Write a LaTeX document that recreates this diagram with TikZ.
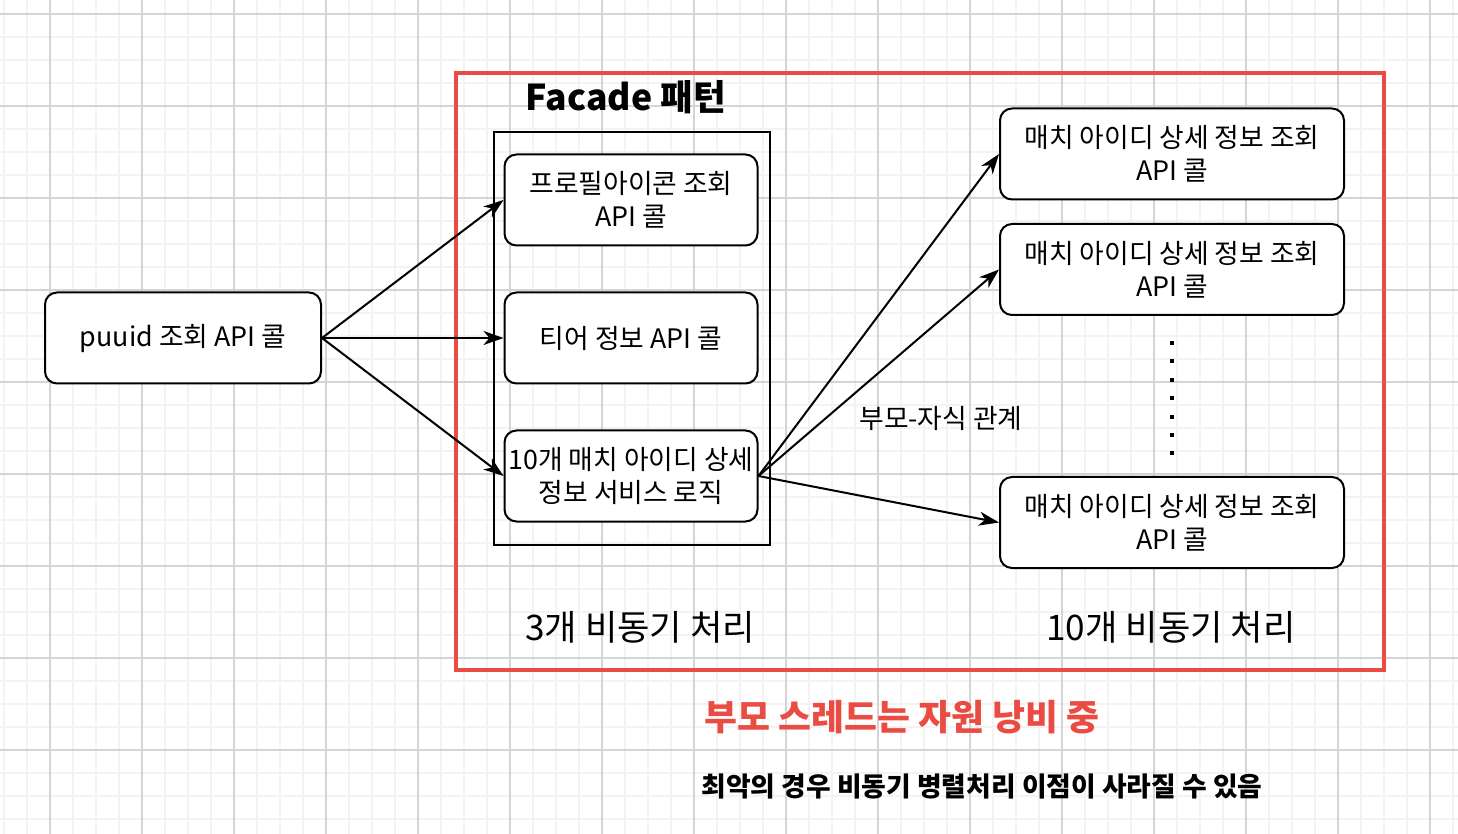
\documentclass[tikz,border=0pt]{standalone}
\usepackage{fontspec}
\setmainfont{Noto Sans CJK KR}
\usetikzlibrary{arrows.meta}
\definecolor{alertred}{RGB}{234,76,67}
\definecolor{gridminor}{RGB}{243,243,243}
\definecolor{gridmajor}{RGB}{212,212,212}

\begin{document}
\begin{tikzpicture}[x=0.5pt,y=-0.5pt,
  callbox/.style={draw, line width=1pt, rounded corners=6pt, fill=white,
    align=center, inner sep=0pt, minimum height=45.5pt,
    font=\fontsize{13.4}{16.5}\selectfont},
  callarrow/.style={-{Stealth[length=10pt,width=7pt,inset=3pt]}, line width=1pt},
  plaintext/.style={inner sep=0pt, font=\fontsize{13.4}{16.5}\selectfont},
  bigtext/.style={inner sep=0pt, font=\fontsize{17.6}{20}\selectfont}]%
  \def\hw{1458}%
  \def\hh{834}%
  \useasboundingbox (0,0) rectangle (\hw,\hh);
  \fill[white] (0,0) rectangle (\hw,\hh);
  % grid of the canvas
  \foreach \gx in {4,27,...,\hw} \draw[gridminor, line width=0.8pt] (\gx,0) -- (\gx,\hh);
  \foreach \gy in {14,37,...,\hh} \draw[gridminor, line width=0.8pt] (0,\gy) -- (\hw,\gy);
  \foreach \gx in {50,142,...,\hw} \draw[gridmajor, line width=0.55pt] (\gx,0) -- (\gx,\hh);
  \foreach \gy in {14,106,...,\hh} \draw[gridmajor, line width=0.55pt] (0,\gy) -- (\hw,\gy);

  % frames
  \draw[alertred, line width=2pt] (456,73) rectangle (1384,670);
  \draw[line width=1pt] (494,132) rectangle (770,545);
  \node[inner sep=0pt, font=\fontsize{17.8}{20}\selectfont\bfseries] (facade) at (626,97) {Facade 패턴};

  \node[callbox, minimum width=138pt] (puuid) at (183,338) {puuid 조회 API 콜};
  \node[callbox, minimum width=126.5pt] (profile) at (631,200) {프로필아이콘 조회\\API 콜};
  \node[callbox, minimum width=126.5pt] (tier) at (631,338) {티어 정보 API 콜};
  \node[callbox, minimum width=126.5pt] (matchsvc) at (631,476) {10개 매치 아이디 상세\\정보 서비스 로직};

  \node[callbox, minimum width=172pt] (detailA) at (1172,154) {매치 아이디 상세 정보 조회\\API 콜};
  \node[callbox, minimum width=172pt] (detailB) at (1172,269.5) {매치 아이디 상세 정보 조회\\API 콜};
  \node[callbox, minimum width=172pt] (detailC) at (1172,522.5) {매치 아이디 상세 정보 조회\\API 콜};

  \draw[callarrow] (puuid.east) -- (profile.west);
  \draw[callarrow] (puuid.east) -- (tier.west);
  \draw[callarrow] (puuid.east) -- (matchsvc.west);
  \draw[callarrow] (matchsvc.east) -- (detailA.west);
  \draw[callarrow] (matchsvc.east) -- (detailB.west);
  \draw[callarrow] (matchsvc.east) -- (detailC.west);
  \draw[line width=2pt, dash pattern=on 2pt off 7.2pt]
    ([yshift=-12.5pt]detailB.south) -- ([yshift=10.5pt]detailC.north);

  \node[plaintext] (relation) at (941,418) {부모-자식 관계};
  \node[bigtext] (asyncthree) at (640,627) {3개 비동기 처리};
  \node[bigtext] (asyncten) at (1171,627) {10개 비동기 처리};
  \node[inner sep=0pt, text=alertred, font=\fontsize{17.9}{20}\selectfont\bfseries] (waste) at (902,717) {부모 스레드는 자원 낭비 중};
  \node[inner sep=0pt, font=\fontsize{13.4}{16}\selectfont\bfseries] (worst) at (982,786) {최악의 경우 비동기 병렬처리 이점이 사라질 수 있음};
\end{tikzpicture}
\end{document}
